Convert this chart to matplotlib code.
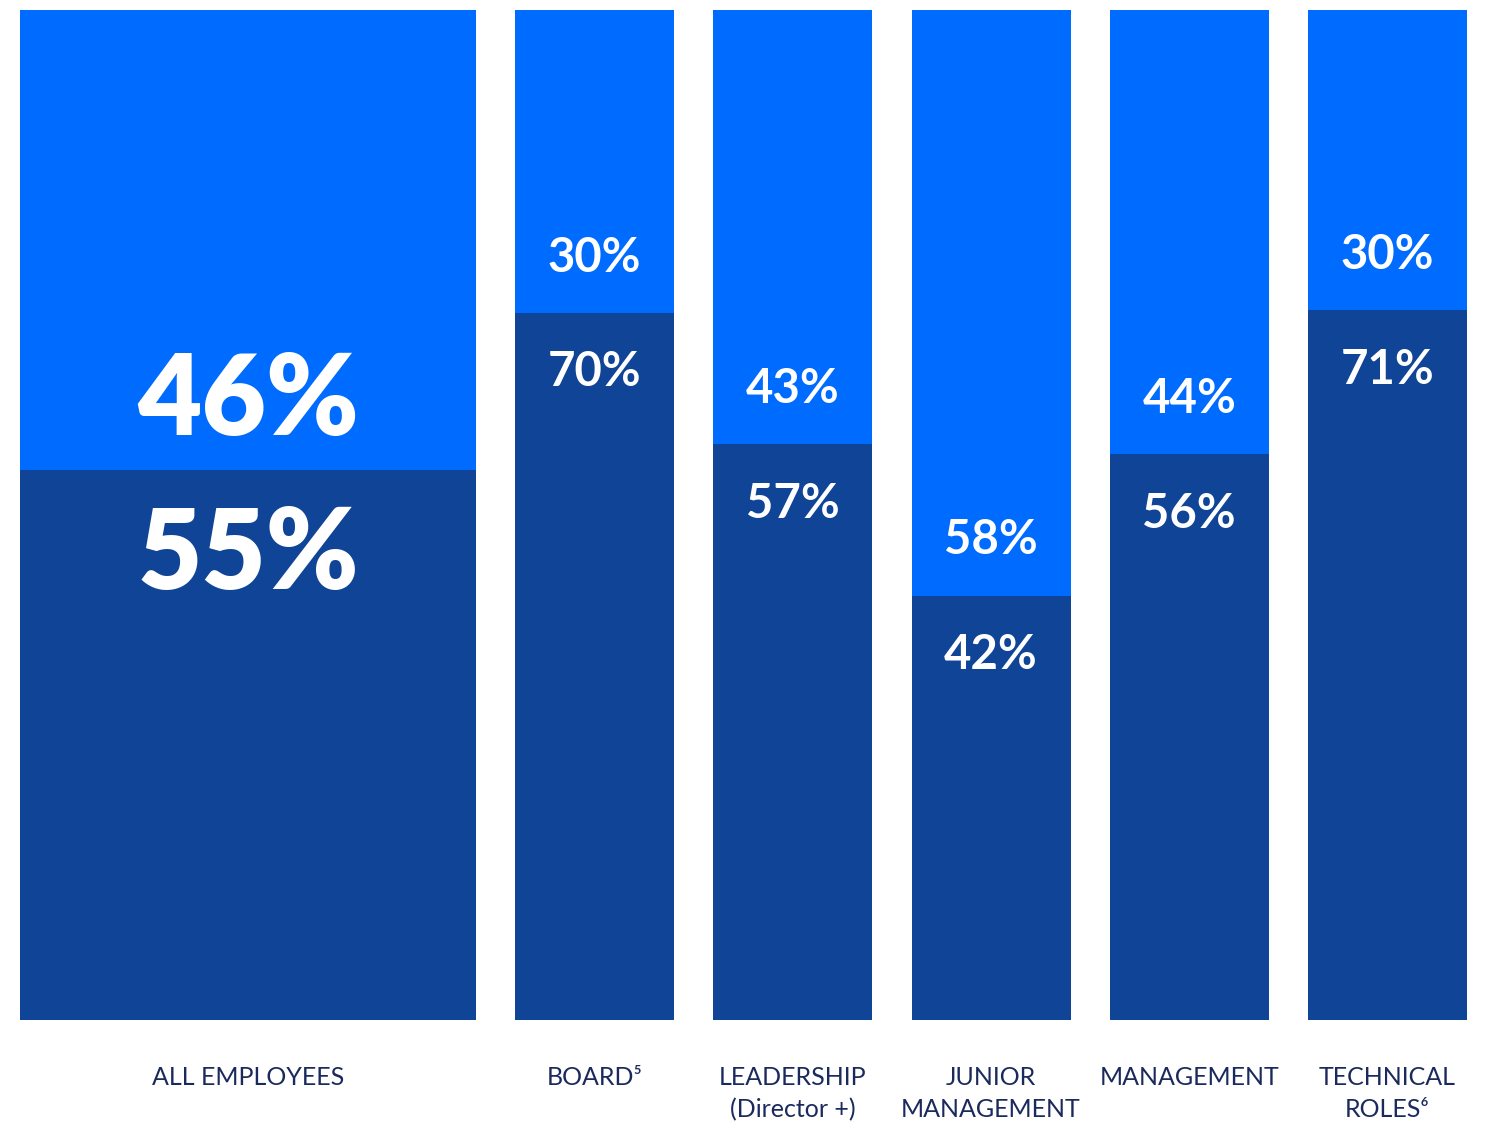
import matplotlib
matplotlib.use("Agg")
import matplotlib.pyplot as plt

# share of each group (top segment / bottom segment), in percent
categories = ["ALL EMPLOYEES", "BOARD\u2075", "LEADERSHIP\n(Director +)",
              "JUNIOR\nMANAGEMENT", "MANAGEMENT", "TECHNICAL\nROLES\u2076"]
top_share = [46, 30, 43, 58, 44, 30]
bottom_share = [55, 70, 57, 42, 56, 71]

LIGHT = "#006cff"
DARK = "#0f4496"
NAVY = "#1b2a5c"

W, H = 1488, 1135
fig = plt.figure(figsize=(W / 100, H / 100), dpi=100)
ax = fig.add_axes([0, (H - 1020) / H, 1, 1010 / H])
ax.set_xlim(0, W)
ax.set_ylim(0, 1)
ax.axis("off")

# first bar is wide, the rest narrow, with even gaps
widths = [456] + [159] * 5
gap = 39.2
lefts = []
x = 20
for w in widths:
    lefts.append(x)
    x += w + gap

fam = ["Lato", "DejaVu Sans"]
for i, (l, w) in enumerate(zip(lefts, widths)):
    total = top_share[i] + bottom_share[i]
    bot = bottom_share[i] / total
    top = top_share[i] / total
    cx = l + w / 2
    ax.bar(cx, bot, width=w, color=DARK, linewidth=0)
    ax.bar(cx, top, width=w, bottom=bot, color=LIGHT, linewidth=0)

    big = i == 0
    size = 80 if big else 34
    weight = "heavy" if big else "bold"
    up = 12 if big else 24
    ax.annotate(f"{top_share[i]}%", (cx, bot), xytext=(0, up),
                textcoords="offset points", ha="center", va="bottom",
                color="white", fontsize=size, fontweight=weight, family=fam)
    ax.annotate(f"{bottom_share[i]}%", (cx, bot), xytext=(0, -25 if big else -27),
                textcoords="offset points", ha="center", va="top",
                color="white", fontsize=size, fontweight=weight, family=fam)

    fig.text(cx / W, 1 - 1066 / H, categories[i], ha="center", va="top",
             color=NAVY, fontsize=18, family=fam, linespacing=1.45)

fig.savefig("out.png", dpi=100, facecolor="white")
